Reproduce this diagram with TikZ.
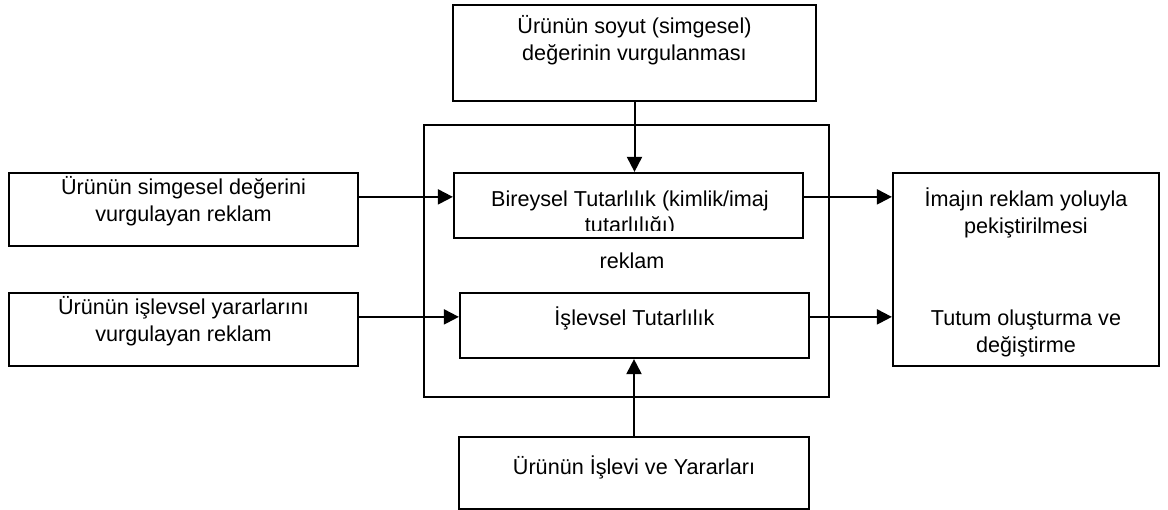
\documentclass[tikz,border=0pt]{standalone}
\usepackage{fontspec}
\setmainfont{Liberation Sans}
\usetikzlibrary{arrows.meta,calc}

\tikzset{
  box/.style={draw, line width=2.2pt, rectangle, inner sep=0pt},
  txt/.style={anchor=base, align=center, inner sep=0pt,
    font=\fontsize{21.6}{26.5}\selectfont},
  arr/.style={line width=2pt, -{Triangle[length=15pt,width=15pt]}}
}

\begin{document}
\begin{tikzpicture}[x=1pt,y=1pt]
  \useasboundingbox (0,0) rectangle (1168,510);

  % frames
  \node[box, minimum width=363, minimum height=96] (top) at (634.5,457) {};
  \node[box, minimum width=405, minimum height=272] (big) at (626.5,249) {};
  \node[box, minimum width=349, minimum height=65] (b1) at (628.5,304.5) {};
  \node[box, minimum width=349, minimum height=65] (i1) at (634.5,184.5) {};
  \node[box, minimum width=349, minimum height=73] (l1) at (183.5,300.5) {};
  \node[box, minimum width=349, minimum height=73] (l2) at (183.5,180.5) {};
  \node[box, minimum width=266, minimum height=193] (r) at (1026,240.5) {};
  \node[box, minimum width=350, minimum height=72] (bot) at (634,37) {};

  % texts (base = baseline of the last line)
  \node[txt] (ttop) at (634.5,449.5) {Ürünün soyut (simgesel)\\değerinin vurgulanması};
  \node[txt] (tl1) at (183.5,288.5) {Ürünün simgesel değerini\\vurgulayan reklam};
  \node[txt] (tl2) at (183.5,168.5) {Ürünün işlevsel yararlarını\\vurgulayan reklam};
  \begin{scope}
    \clip (b1.north west) rectangle ($(b1.south east)+(0,9)$);
    \node[txt] (tb1) at (630,277) {Bireysel Tutarlılık (kimlik/imaj\\tutarlılığı)};
  \end{scope}
  \node[txt] (ti1) at (634.5,184) {İşlevsel Tutarlılık};
  \node[txt] (treklam) at (632,241) {reklam};
  \node[txt] (tr1) at (1026,276.5) {İmajın reklam yoluyla\\pekiştirilmesi};
  \node[txt] (tr2) at (1026,157.5) {Tutum oluşturma ve\\değiştirme};
  \node[txt] (tbot) at (634,35) {Ürünün İşlevi ve Yararları};

  % connector heights
  \coordinate (ya) at ($(l1.north east)+(0,-25)$);
  \coordinate (yb) at ($(l2.north east)+(0,-25)$);

  % connectors
  \draw[arr] (top.south) -- (top.south |- b1.north);
  \draw[arr] (bot.north) -- (bot.north |- i1.south);
  \draw[arr] (ya) -- (ya -| b1.west);
  \draw[arr] (yb) -- (yb -| i1.west);
  \draw[arr] (ya -| b1.east) -- (ya -| r.west);
  \draw[arr] (yb -| i1.east) -- (yb -| r.west);
\end{tikzpicture}
\end{document}
